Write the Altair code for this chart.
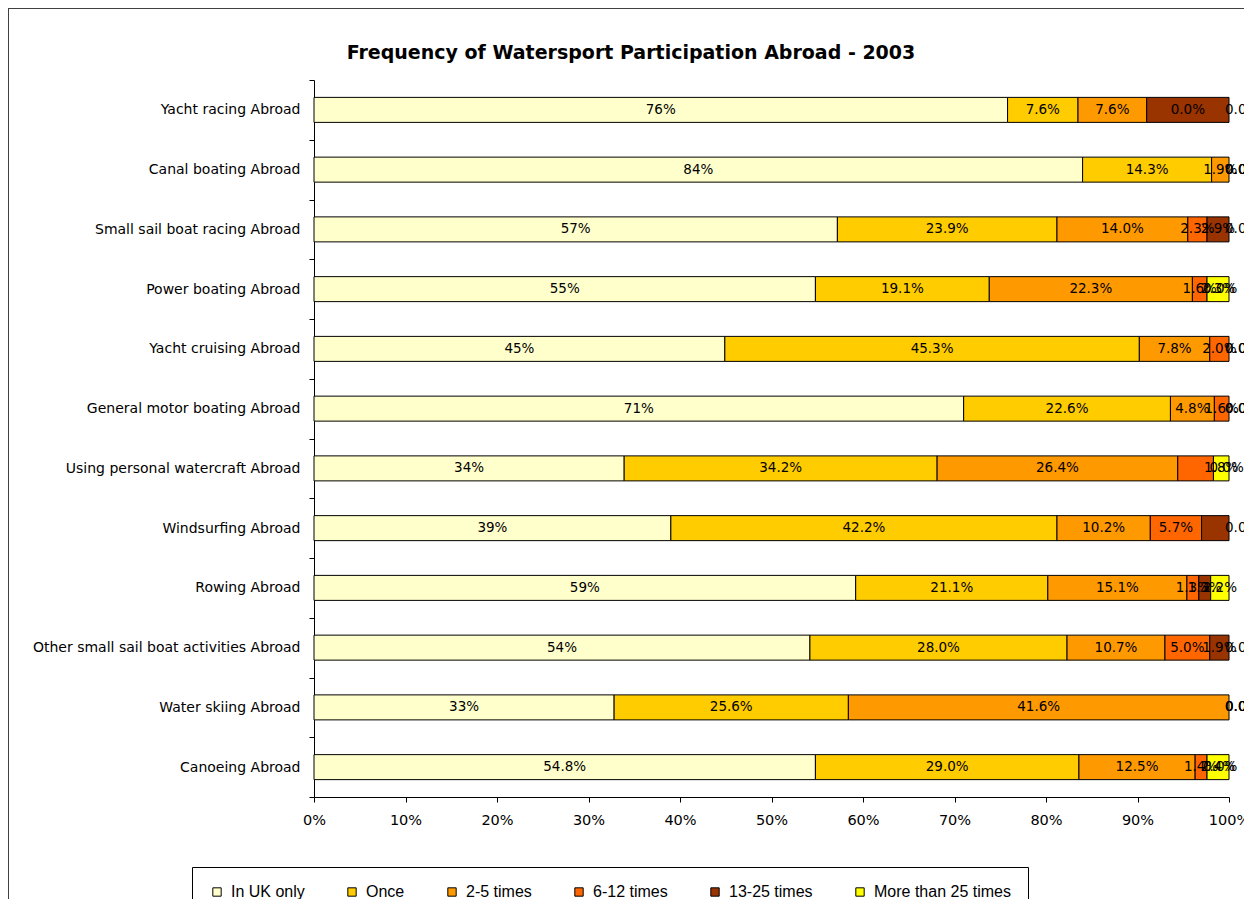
import altair as alt
import pandas as pd

activities = [
    "Yacht racing Abroad",
    "Canal boating Abroad",
    "Small sail boat racing Abroad",
    "Power boating Abroad",
    "Yacht cruising Abroad",
    "General motor boating Abroad",
    "Using personal watercraft Abroad",
    "Windsurfing Abroad",
    "Rowing Abroad",
    "Other small sail boat activities Abroad",
    "Water skiing Abroad",
    "Canoeing Abroad",
]
categories = ["In UK only", "Once", "2-5 times", "6-12 times", "13-25 times", "More than 25 times"]
colors = ["#FFFFCC", "#FFCC00", "#FF9900", "#FF6600", "#993300", "#FFFF00"]
title_text = "Frequency of Watersport Participation Abroad - 2003"

in_uk_only = [75.8, 84.0, 57.2, 54.8, 44.9, 71.0, 33.9, 39.0, 59.2, 54.2, 32.8, 54.8]
once = [7.7, 14.1, 24.0, 19.0, 45.3, 22.6, 34.2, 42.2, 21.0, 28.1, 25.6, 28.8]
times_2_5 = [7.5, 1.9, 14.3, 22.2, 7.7, 4.8, 26.3, 10.2, 15.2, 10.7, 41.6, 12.7]
times_6_12 = [0.0, 0.0, 2.1, 1.6, 2.1, 1.6, 3.9, 5.6, 1.3, 4.9, 0.0, 1.3]
times_13_25 = [9.0, 0.0, 2.4, 0.0, 0.0, 0.0, 0.0, 3.0, 1.3, 2.1, 0.0, 0.0]
more_than_25 = [0.0, 0.0, 0.0, 2.4, 0.0, 0.0, 1.7, 0.0, 2.0, 0.0, 0.0, 2.4]

lab_in_uk_only = ["76%", "84%", "57%", "55%", "45%", "71%", "34%", "39%", "59%", "54%", "33%", "54.8%"]
lab_once = ["7.6%", "14.3%", "23.9%", "19.1%", "45.3%", "22.6%", "34.2%", "42.2%", "21.1%", "28.0%", "25.6%", "29.0%"]
lab_2_5 = ["7.6%", "1.9%", "14.0%", "22.3%", "7.8%", "4.8%", "26.4%", "10.2%", "15.1%", "10.7%", "41.6%", "12.5%"]
lab_6_12 = ["", "0.0%", "2.3%", "1.6%", "2.0%", "1.6%", "", "5.7%", "1.3%", "5.0%", "0.0%", "1.4%"]
lab_13_25 = ["0.0%", "0.0%", "2.9%", "0.0%", "0.0%", "0.0%", "0.0%", "", "1.3%", "1.9%", "0.0%", "0.0%"]
lab_more_25 = ["0.0%", "0.0%", "0.0%", "2.3%", "0.0%", "0.0%", "1.8%", "0.0%", "2.2%", "0.0%", "0.0%", "2.4%"]

series = [in_uk_only, once, times_2_5, times_6_12, times_13_25, more_than_25]
labels = [lab_in_uk_only, lab_once, lab_2_5, lab_6_12, lab_13_25, lab_more_25]

rows = []
for a_i, act in enumerate(activities):
    for c_i, cat in enumerate(categories):
        rows.append({
            "activity": act,
            "category": cat,
            "idx": c_i,
            "value": series[c_i][a_i],
            "label": labels[c_i][a_i],
        })
df = pd.DataFrame(rows)

yscale = alt.Scale(domain=activities, paddingInner=0, paddingOuter=0)
xscale = alt.Scale(domain=[0, 100], nice=False)

base = alt.Chart(df)

bars = base.transform_filter("datum.value > 0").mark_bar(
    stroke="black", strokeWidth=1, height=25
).encode(
    y=alt.Y("activity:N", sort=activities, scale=yscale, title=None,
            axis=alt.Axis(tickBand="extent", tickSize=5, labelPadding=9,
                          labelFont="DejaVu Sans", labelFontSize=14,
                          labelColor="black", tickColor="black",
                          domainColor="black", labelLimit=400)),
    x=alt.X("value:Q", stack="zero", scale=xscale, title=None,
            axis=alt.Axis(values=[0, 10, 20, 30, 40, 50, 60, 70, 80, 90, 100],
                          labelExpr="datum.value + '%'", grid=False,
                          labelFlush=False, labelOverlap=False,
                          tickSize=5, labelPadding=11,
                          labelFont="DejaVu Sans", labelFontSize=14.5,
                          labelColor="black", tickColor="black",
                          domainColor="black")),
    color=alt.Color("category:N", sort=categories,
                    scale=alt.Scale(domain=categories, range=colors),
                    legend=alt.Legend(title=None, orient="none", legendX=-122, legendY=787,
                                      direction="horizontal", columns=6,
                                      strokeColor="black", padding=17, fillColor="white",
                                      symbolType="square", symbolSize=70,
                                      symbolStrokeColor="black", symbolStrokeWidth=1,
                                      labelFont="Liberation Sans", labelFontSize=16,
                                      labelColor="black",
                                      columnPadding=39, labelOffset=6)),
    order=alt.Order("idx:Q"),
)

stacked = base.transform_stack(
    stack="value", groupby=["activity"], as_=["x0", "x1"],
    sort=[alt.SortField("idx", order="ascending")]
).transform_calculate(
    mid="(datum.x0 + datum.x1) / 2"
).transform_filter("datum.label != ''")

text_mid = stacked.transform_filter("datum.value > 0").mark_text(
    font="DejaVu Sans", fontSize=13.5, color="black", align="center", baseline="middle"
).encode(
    y=alt.Y("activity:N", sort=activities, scale=yscale),
    x=alt.X("mid:Q", scale=xscale),
    text="label:N",
)

text_zero = stacked.transform_filter("datum.value <= 0").mark_text(
    font="DejaVu Sans", fontSize=13.5, color="black", align="left", baseline="middle", dx=-4
).encode(
    y=alt.Y("activity:N", sort=activities, scale=yscale),
    x=alt.X("mid:Q", scale=xscale),
    text="label:N",
)

one = pd.DataFrame({"t": [title_text]})

frame = alt.Chart(one).mark_rect(
    fillOpacity=0, stroke="#404040", strokeWidth=2
).encode(
    x=alt.value(-306), x2=alt.value(960), y=alt.value(-72), y2=alt.value(900)
)

title = alt.Chart(one).mark_text(
    font="DejaVu Sans", fontSize=19, fontWeight="bold", color="black",
    align="center", baseline="middle"
).encode(
    x=alt.value(317), y=alt.value(-27), text="t:N"
)

chart = alt.layer(frame, bars, text_mid, text_zero, title).properties(
    width=915,
    height=717,
    padding={"left": 306, "top": 72, "right": 15, "bottom": 102},
    autosize=alt.AutoSizeParams(type="none"),
    background="white",
).configure_view(stroke="transparent")

chart.save("out.html", embed_options={"renderer": "svg", "actions": False})
